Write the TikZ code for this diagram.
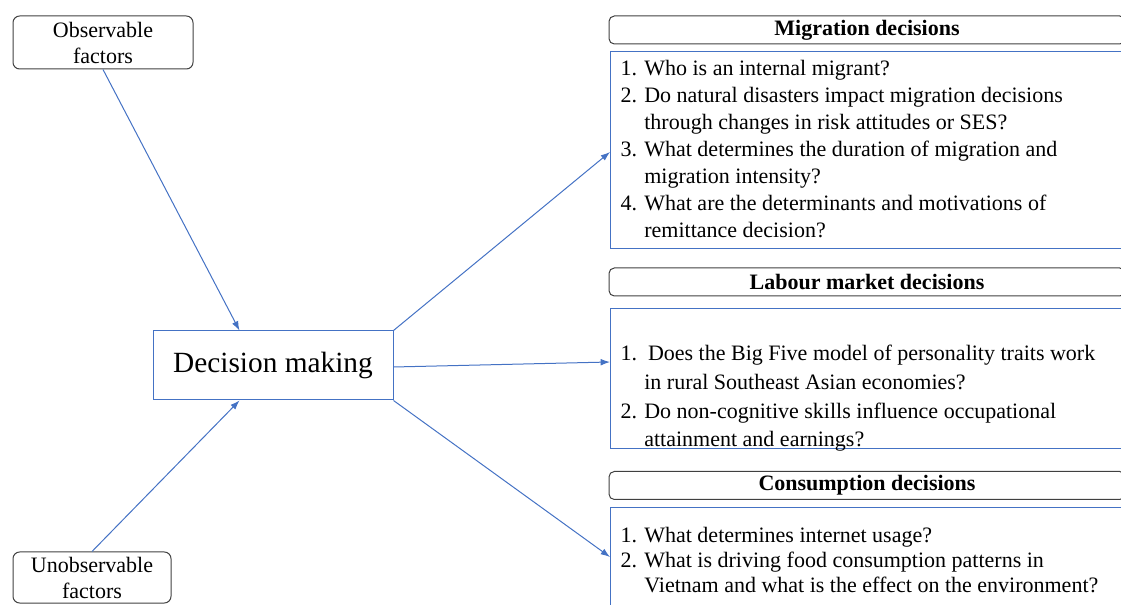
\documentclass[tikz,border=0pt]{standalone}
\usepackage{fontspec}
\setmainfont{Liberation Serif}
\usepackage{tikz}
\usetikzlibrary{arrows.meta,calc}
\tikzset{every picture/.style={line width=0.75pt}}
\tikzset{
  factorbox/.style={draw={rgb, 255:red, 64; green, 64; blue, 64 }, rounded corners=5pt, inner sep=0pt, align=center, font=\fontsize{16.5}{19.5}\selectfont},
  headbox/.style={draw={rgb, 255:red, 64; green, 64; blue, 64 }, rounded corners=4pt, inner sep=0pt, minimum width=387pt, minimum height=21pt, font=\fontsize{16.5}{19.5}\selectfont\bfseries},
  bodybox/.style={draw={rgb, 255:red, 68; green, 114; blue, 196 }, inner sep=0pt, anchor=north west, minimum width=386.25pt},
  qtext/.style={inner sep=0pt, anchor=north west, align=left},
  link/.style={draw={rgb, 255:red, 68; green, 114; blue, 196 }, -{Latex[length=7pt,width=5pt]}}
}

\begin{document}
\begin{tikzpicture}[x=0.75pt,y=0.75pt,yscale=-1,xscale=1]
\useasboundingbox (0,0) rectangle (1121,605);
\clip (0,0) rectangle (1121,605);

%Shape: Rounded Rect [id:obs]
\node [factorbox, minimum width=135pt, minimum height=39.75pt] (obs) at (103,42.5) {Observable\\factors};
%Shape: Rounded Rect [id:unobs]
\node [factorbox, minimum width=118.5pt, minimum height=38.25pt] (unobs) at (92,577.5) {Unobservable\\factors};
%Shape: Rectangle [id:dec]
\node [draw={rgb, 255:red, 68; green, 114; blue, 196 }, inner sep=0pt, minimum width=180pt, minimum height=51.75pt, font=\fontsize{22}{26}\selectfont] (dec) at (273,365.5) {Decision making};

%Shape: Rounded Rect [id:mighead]
\node [headbox] (mighead) at (867,30) {Migration decisions};
%Shape: Rectangle [id:migbody]
\node [bodybox, minimum height=147.75pt] (migbody) at (610,51) {};
\node [qtext, font=\fontsize{16.5}{20.2}\selectfont] (migq) at (620,60) {1. Who is an internal migrant?\\
2. Do natural disasters impact migration decisions\\
\phantom{2. }through changes in risk attitudes or SES?\\
3. What determines the duration of migration and\\
\phantom{3. }migration intensity?\\
4. What are the determinants and motivations of\\
\phantom{4. }remittance decision?};

%Shape: Rounded Rect [id:labhead]
\node [headbox] (labhead) at (867,282) {Labour market decisions};
%Shape: Rectangle [id:labbody]
\node [bodybox, minimum height=105pt] (labbody) at (610,308) {};
\node [qtext, font=\fontsize{16.5}{21.5}\selectfont] (labq) at (620,345) {1.\ \ Does the Big Five model of personality traits work\\
\phantom{1. }in rural Southeast Asian economies?\\
2. Do non-cognitive skills influence occupational\\
\phantom{2. }attainment and earnings?};

%Shape: Rounded Rect [id:conhead]
\node [headbox] (conhead) at (867,485.5) {Consumption decisions};
%Shape: Rectangle [id:conbody]
\node [bodybox, minimum height=88.5pt] (conbody) at (610,507) {};
\node [qtext, font=\fontsize{16.5}{18.75}\selectfont] (conq) at (620,527) {1. What determines internet usage?\\
2. What is driving food consumption patterns in\\
\phantom{2. }Vietnam and what is the effect on the environment?};

%Straight Lines
\draw [link] (obs.south) -- ($(dec.north west)+(87,0)$);
\draw [link] (unobs.north) -- ($(dec.south west)+(87,0)$);
\draw [link] (dec.north east) -- ($(migbody.north west)+(0,101)$);
\draw [link] ($(dec.east)+(0,1.5)$) -- ($(labbody.north west)+(0,54)$);
\draw [link] (dec.south east) -- ($(conbody.north west)+(0,50)$);
\end{tikzpicture}
\end{document}
